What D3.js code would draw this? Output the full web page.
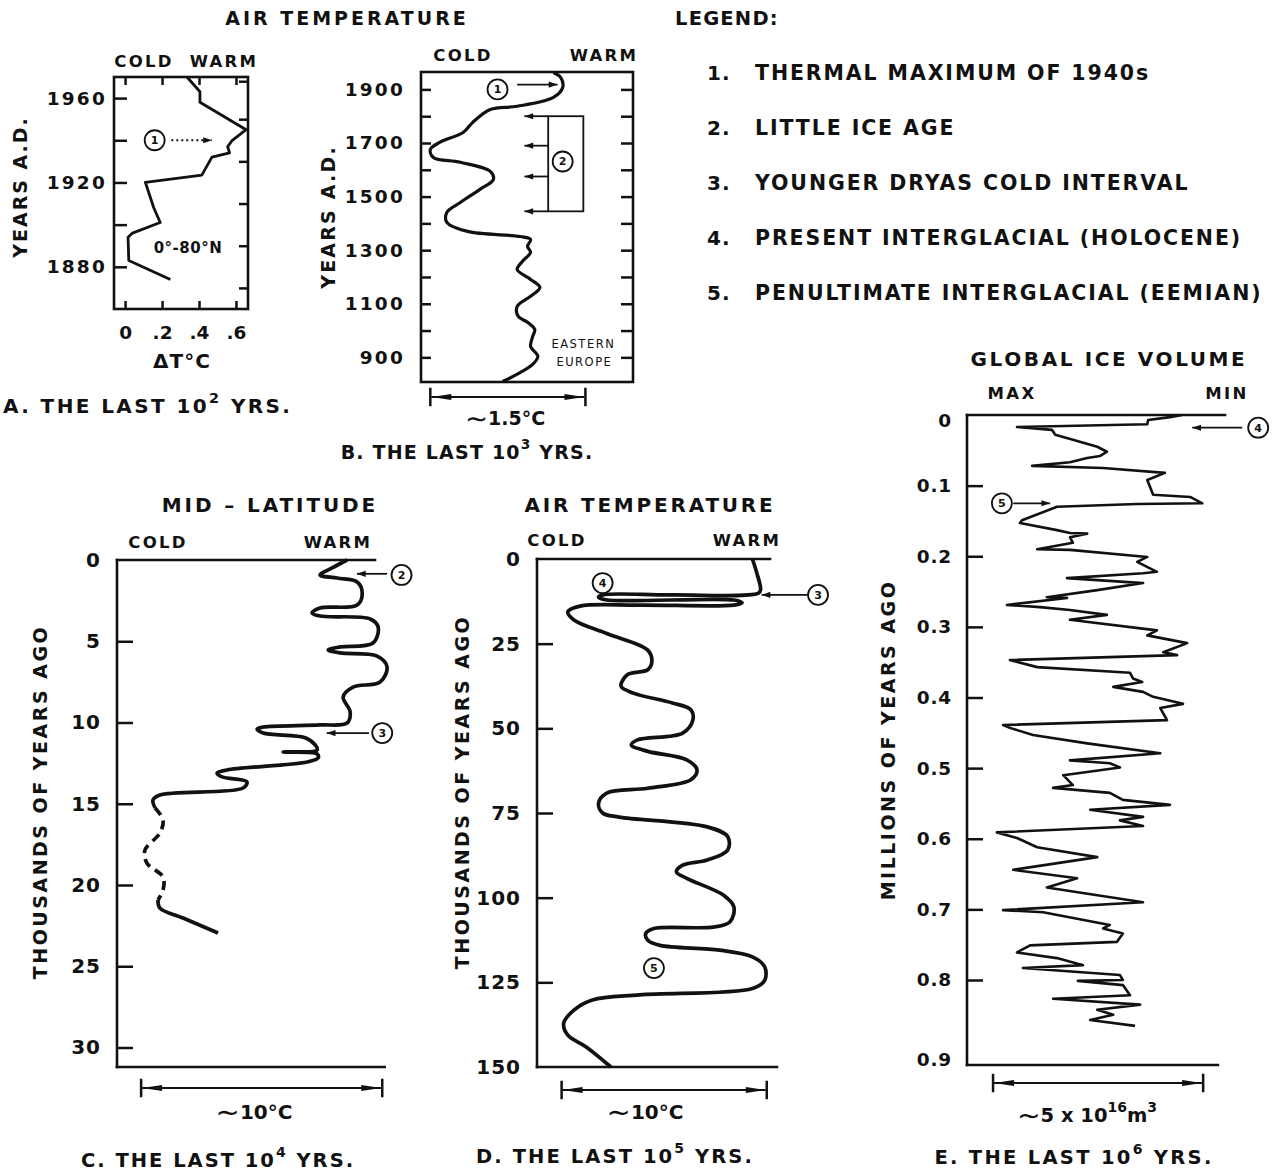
<!DOCTYPE html>
<html><head><meta charset="utf-8">
<script src="https://cdn.jsdelivr.net/npm/d3@7"></script>
<style>
body{margin:0;background:#fff}
text{font-family:"DejaVu Sans",sans-serif;font-weight:bold;fill:#111}
</style>
</head><body>
<svg id="c" width="1285" height="1171"></svg>
<script>
// ===================== DATA =====================
// Panel A: last 10^2 years, 0-80N air temperature anomaly
const aYears  = [1874,1883,1894,1896,1901,1908,1920,1923.5,1932,1934,1937,1940,1945,1958,1963,1970];
const aDeltaT = [0.245,0.02,0.016,0.04,0.19,0.155,0.11,0.415,0.47,0.565,0.555,0.58,0.655,0.405,0.405,0.335];
const aYearTicks = [1880,1920,1960];
const aDeltaTicks = [0,0.2,0.4,0.6];
const aDeltaLabels = ["0",".2",".4",".6"];

// Panel B: last 10^3 years, Eastern Europe (relative °C)
const bYears = [810,829,874,904,941,978,1004,1031,1053,1090,1128,1161,1191,1228,1258,1292,1314,1340,1351,1370,1404,1441,1478,1527,1564,1594,1628,1646,1676,1702,1740,1777,1825,1837,1870,1907,1945,1963];
const bTemp  = [0.79,0.89,1.08,1.13,1.06,1.08,1.10,1.03,0.94,0.93,1.06,1.15,1.06,0.93,0.98,1.06,1.03,1.06,0.96,0.45,0.25,0.25,0.38,0.57,0.70,0.67,0.38,0.12,0.09,0.18,0.41,0.50,0.67,0.93,1.28,1.37,1.35,1.28];
const bYearTicks = [900,1100,1300,1500,1700,1900];

// Panel C: last 10^4 years, mid-latitude (relative °C); dashed between 15.26 and 20.92 kyr
const cKyr  = [0,0.49,0.92,1.11,1.35,2.03,2.77,2.95,3.26,3.45,3.63,4.12,5.11,5.35,5.54,5.72,5.91,6.58,7.51,7.82,8.43,9.35,10.03,10.15,10.28,10.40,10.65,10.95,11.38,11.69,11.82,11.94,12.18,12.43,12.92,13.11,13.35,13.66,14.03,14.46,14.77,15.26,16.0,16.8,17.85,18.65,19.51,20.31,20.92,21.42,22.03,22.95];
const cTemp = [9.54,8.92,8.42,9.13,9.96,10.17,9.96,8.42,8.09,8.42,10.50,10.83,10.62,9.25,8.76,9.25,10.79,11.20,10.91,9.79,9.38,9.67,9.54,8.42,6.06,5.81,6.06,7.83,8.22,8.30,6.89,8.30,8.34,7.88,4.56,4.15,4.36,5.39,5.23,1.78,1.49,1.58,1.91,1.78,1.16,1.24,1.91,1.91,1.70,1.78,2.74,4.19];
const cDashed = [15.26,20.92];
const cTicks = [0,5,10,15,20,25,30];

// Panel D: last 10^5 years, air temperature (relative °C)
const dKyr  = [0,3.8,9.1,10.1,10.6,10.6,11.3,12.1,12.1,12.9,13.6,13.6,13.9,15.6,18.0,22,26.9,30.3,32.7,34.2,37.6,39.6,42.5,44.5,47.5,51.4,53.4,54.9,56.8,59.3,62.3,65.2,67.7,69.1,72.1,75.0,76.2,79.1,82.0,85.9,88.9,90.4,92.4,94.3,99.3,102.8,107.2,108.7,109.1,110.6,112.6,114.1,115.5,117.5,120.4,124.4,126.8,128.7,130.2,133.2,137.1,140.6,144.1,150];
const dTemp = [10.5,10.7,10.9,10.8,6.6,3.2,3.0,3.4,9.6,10.0,9.6,5.0,2.1,1.5,1.8,3.4,5.4,5.6,5.4,4.4,4.1,4.7,6.6,7.5,7.6,7.1,4.9,4.6,5.4,7.3,7.8,7.5,5.4,3.4,3.0,3.2,4.0,8.3,9.3,9.3,8.3,7.1,6.8,7.3,9.1,9.6,9.4,8.6,5.7,5.3,5.4,6.0,8.9,10.5,11.1,11.1,10.5,5.0,2.7,1.8,1.3,1.5,2.4,3.6];
const dTicks = [0,25,50,75,100,125,150];

// Panel E: last 10^6 years, global ice volume deficit from maximum (10^16 m^3)
const eMya = [0.000,0.003,0.007,0.013,0.017,0.021,0.028,0.035,0.045,0.052,0.058,0.061,0.067,0.072,0.075,0.082,0.092,0.113,0.116,0.125,0.126,0.130,0.149,0.153,0.163,0.167,0.168,0.173,0.181,0.190,0.191,0.201,0.208,0.222,0.224,0.231,0.238,0.248,0.258,0.259,0.269,0.272,0.276,0.283,0.290,0.305,0.312,0.323,0.336,0.340,0.347,0.357,0.365,0.373,0.378,0.385,0.392,0.399,0.409,0.415,0.432,0.439,0.443,0.453,0.465,0.479,0.489,0.493,0.499,0.510,0.524,0.528,0.535,0.545,0.552,0.559,0.569,0.574,0.582,0.591,0.599,0.612,0.626,0.644,0.656,0.669,0.690,0.701,0.704,0.722,0.727,0.734,0.746,0.751,0.761,0.769,0.779,0.783,0.793,0.800,0.801,0.806,0.818,0.822,0.829,0.835,0.841,0.847,0.854];
const eIce = [5.12,4.83,4.31,4.29,1.19,2.02,2.10,2.52,3.10,3.33,3.17,2.86,2.45,1.55,3.24,4.71,4.29,4.43,5.31,5.60,4.05,2.14,1.31,1.26,2.14,2.45,2.86,2.45,2.52,1.67,2.45,4.29,4.05,4.52,4.19,2.38,4.19,3.10,1.90,2.38,0.95,1.74,2.45,3.33,2.45,4.52,4.29,5.24,4.67,5.00,1.02,1.67,3.88,3.95,4.17,3.48,4.19,4.43,5.14,4.60,4.76,0.86,1.02,1.57,2.86,4.60,2.45,3.40,3.64,2.29,2.52,2.05,3.40,3.71,4.83,2.93,4.19,3.64,4.19,0.71,1.19,1.67,3.10,1.10,2.62,1.90,4.19,0.86,1.81,3.40,3.24,3.71,3.57,1.50,1.19,2.14,2.76,1.33,3.64,3.71,2.64,3.71,3.88,2.05,4.12,3.10,3.48,2.93,4.00];
const eTicks = [0,0.1,0.2,0.3,0.4,0.5,0.6,0.7,0.8,0.9];

const legendItems = ["THERMAL MAXIMUM OF 1940s","LITTLE ICE AGE","YOUNGER DRYAS COLD INTERVAL","PRESENT INTERGLACIAL (HOLOCENE)","PENULTIMATE INTERGLACIAL (EEMIAN)"];

// ===================== DRAWING =====================
const svg = d3.select("#c");
svg.append("rect").attr("width",1285).attr("height",1171).attr("fill","#fff");
const defs = svg.append("defs");
defs.append("marker").attr("id","bigArrow").attr("viewBox","0 0 20 8").attr("refX",20).attr("refY",4)
  .attr("markerUnits","userSpaceOnUse").attr("markerWidth",22).attr("markerHeight",8).attr("orient","auto-start-reverse")
  .append("path").attr("d","M0,1 L20,4 L0,7 Z").attr("fill","#111");
defs.append("marker").attr("id","smallArrow").attr("viewBox","0 0 10 8").attr("refX",10).attr("refY",4)
  .attr("markerUnits","userSpaceOnUse").attr("markerWidth",11).attr("markerHeight",7).attr("orient","auto")
  .append("path").attr("d","M0,0.5 L10,4 L0,7.5 Z").attr("fill","#111");

const INK="#111";
function txt(x,y,s,o={}){
  const t=svg.append("text").attr("x",x).attr("y",y).attr("dominant-baseline","central")
    .attr("text-anchor",o.anchor||"middle").style("font-size",(o.size||18)+"px")
    .style("letter-spacing",(o.ls!=null?o.ls:1.5)+"px");
  if(o.rot) t.attr("transform",`rotate(${o.rot},${x},${y})`);
  if(o.weight) t.style("font-weight",o.weight);
  t.text(s); return t;
}
function supTxt(x,y,parts,o={}){ // parts: [[text,isSup],...]
  const sz=o.size||19;
  const t=svg.append("text").attr("x",x).attr("y",y).attr("dominant-baseline","central")
    .attr("text-anchor",o.anchor||"middle").style("font-size",sz+"px")
    .style("letter-spacing",(o.ls!=null?o.ls:1.5)+"px");
  let up=false;
  parts.forEach(([s,sup])=>{
    const ts=t.append("tspan").text(s);
    if(sup){ts.style("font-size",(sz*0.72)+"px"); if(!up){ts.attr("dy",-sz*0.42);up=true;}}
    else if(up){ts.attr("dy",sz*0.42);up=false;}
  });
  return t;
}
function tildeTxt(x,y,rest,sz,supParts){
  const t=svg.append("text").attr("x",x).attr("y",y).attr("dominant-baseline","central")
    .attr("text-anchor","middle").style("font-size",sz+"px").style("letter-spacing","0px");
  t.append("tspan").text("∼").style("font-size",(sz*1.45)+"px").style("font-weight","normal");
  if(!supParts){ t.append("tspan").text(rest); return t; }
  let up=false;
  supParts.forEach(([s,sup])=>{
    const ts=t.append("tspan").text(s);
    if(sup){ts.style("font-size",(sz*0.72)+"px"); if(!up){ts.attr("dy",-sz*0.42);up=true;}}
    else if(up){ts.attr("dy",sz*0.42);up=false;}
  });
  return t;
}
function line(x1,y1,x2,y2,w=2.5){
  return svg.append("line").attr("x1",x1).attr("y1",y1).attr("x2",x2).attr("y2",y2)
    .attr("stroke",INK).attr("stroke-width",w).attr("stroke-linecap","square");
}
function marker(cx,cy,label){
  svg.append("circle").attr("cx",cx).attr("cy",cy).attr("r",10).attr("fill","#fff").attr("stroke",INK).attr("stroke-width",1.8);
  txt(cx,cy+0.5,label,{size:11,ls:0});
}
function arrow(x1,y1,x2,y2,dash){
  const l=svg.append("line").attr("x1",x1).attr("y1",y1).attr("x2",x2).attr("y2",y2)
    .attr("stroke",INK).attr("stroke-width",1.8).attr("marker-end","url(#smallArrow)");
  if(dash) l.attr("stroke-dasharray",dash);
}
function scaleBar(x1,x2,y){
  svg.append("line").attr("x1",x1+1).attr("y1",y).attr("x2",x2-1).attr("y2",y)
    .attr("stroke",INK).attr("stroke-width",2.2)
    .attr("marker-start","url(#bigArrow)").attr("marker-end","url(#bigArrow)");
  line(x1,y-8,x1,y+8,2.5); line(x2,y-8,x2,y+8,2.5);
}
function styleAxis(g){
  g.select(".domain").remove();
  g.selectAll(".tick line").attr("stroke",INK).attr("stroke-width",2.5);
  g.selectAll(".tick text").attr("fill",INK).style("font-family","DejaVu Sans").style("font-weight","bold");
}

// ---------- Panel A ----------
const xA=d3.scaleLinear([-0.06,0.665],[114,248]);
const yA=d3.scaleLinear([1860,1970],[309,77]);
svg.append("rect").attr("x",xA(-0.06)).attr("y",yA(1970)).attr("width",xA(0.665)-xA(-0.06)).attr("height",yA(1860)-yA(1970))
  .attr("fill","none").attr("stroke",INK).attr("stroke-width",2.6);
let g=svg.append("g").attr("transform",`translate(${xA(-0.06)},0)`)
  .call(d3.axisLeft(yA).tickValues(aYearTicks).tickFormat(d3.format("d")).tickSizeInner(-13).tickSizeOuter(0).tickPadding(7));
styleAxis(g); g.selectAll(".tick text").style("font-size","18.5px").style("letter-spacing","2.2px");
g=svg.append("g").attr("transform",`translate(${xA(-0.06)},0)`)
  .call(d3.axisLeft(yA).tickValues([1900,1940]).tickFormat("").tickSizeInner(-13).tickSizeOuter(0)); styleAxis(g);
g=svg.append("g").attr("transform",`translate(${xA(0.665)},0)`)
  .call(d3.axisRight(yA).tickValues([1870,1890,1910,1930,1950,1968]).tickFormat("").tickSizeInner(-9).tickSizeOuter(0)); styleAxis(g);
g=svg.append("g").attr("transform",`translate(0,${yA(1860)})`)
  .call(d3.axisBottom(xA).tickValues(aDeltaTicks).tickFormat((d,i)=>aDeltaLabels[i]).tickSizeInner(-8).tickSizeOuter(0).tickPadding(17));
styleAxis(g); g.selectAll(".tick text").style("font-size","18.5px");
g=svg.append("g").attr("transform",`translate(0,${yA(1970)})`)
  .call(d3.axisTop(xA).tickValues(aDeltaTicks).tickFormat("").tickSizeInner(-8).tickSizeOuter(0)); styleAxis(g);
svg.append("path").datum(aYears.map((y,i)=>[aDeltaT[i],y]))
  .attr("d",d3.line().x(d=>xA(d[0])).y(d=>yA(d[1])))
  .attr("fill","none").attr("stroke",INK).attr("stroke-width",2.8).attr("stroke-linejoin","round");
marker(xA(0.16),yA(1940),"1");
arrow(xA(0.25),yA(1940),xA(0.47),yA(1940),"2,3");
txt(xA(0.34),yA(1889),"0°-80°N",{size:15,ls:0.5});
txt(144,61,"COLD",{size:16.5,ls:2.3});
txt(224,61,"WARM",{size:16.5,ls:2.3});
txt(20,187,"YEARS A.D.",{size:19,rot:-90,ls:2});
txt(182,361,"ΔT°C",{size:20,ls:1});
supTxt(3,406,[["A. THE LAST 10",false],["2",true],[" YRS.",false]],{anchor:"start",size:20,ls:2.4});

// ---------- Panel B ----------
const xB=d3.scaleLinear([0,2.05],[421,633]);
const yB=d3.scaleLinear([808,1965],[382,72]);
svg.append("rect").attr("x",xB(0)).attr("y",yB(1965)).attr("width",xB(2.05)-xB(0)).attr("height",yB(808)-yB(1965))
  .attr("fill","none").attr("stroke",INK).attr("stroke-width",2.6);
g=svg.append("g").attr("transform",`translate(${xB(0)},0)`)
  .call(d3.axisLeft(yB).tickValues(d3.range(900,1901,100)).tickFormat(d=>bYearTicks.includes(d)?d:"").tickSizeInner(-10).tickSizeOuter(0).tickPadding(16));
styleAxis(g); g.selectAll(".tick text").style("font-size","18.5px").style("letter-spacing","2.2px");
g=svg.append("g").attr("transform",`translate(${xB(2.05)},0)`)
  .call(d3.axisRight(yB).tickValues(d3.range(900,1901,100)).tickFormat("").tickSizeInner(-12).tickSizeOuter(0)); styleAxis(g);
svg.append("path").datum(bYears.map((y,i)=>[bTemp[i],y]))
  .attr("d",d3.line().x(d=>xB(d[0])).y(d=>yB(d[1])).curve(d3.curveCatmullRom.alpha(0.5)))
  .attr("fill","none").attr("stroke",INK).attr("stroke-width",3.2).attr("stroke-linejoin","round");
marker(xB(0.74),yB(1900),"1");
arrow(xB(0.93),yB(1918),xB(1.32),yB(1918));
// Little Ice Age bracket
svg.append("rect").attr("x",xB(1.23)).attr("y",yB(1800)).attr("width",xB(1.57)-xB(1.23)).attr("height",yB(1445)-yB(1800))
  .attr("fill","none").attr("stroke",INK).attr("stroke-width",1.8);
[1800,1690,1575,1445].forEach(yr=>arrow(xB(1.23),yB(yr),xB(1.0),yB(yr)));
marker(xB(1.37),yB(1631),"2");
txt(xB(1.57),yB(950),"EASTERN",{size:11.5,ls:1.5,weight:"normal"});
txt(xB(1.58),yB(882),"EUROPE",{size:11.5,ls:1.5,weight:"normal"});
txt(463,55,"COLD",{size:16.5,ls:2.3});
txt(604,55,"WARM",{size:16.5,ls:2.3});
txt(328,217,"YEARS A.D.",{size:19,rot:-90,ls:2.2});
scaleBar(xB(0.09),xB(1.59),yB(808)+15);
tildeTxt(505,418,"1.5°C",19);
supTxt(467,452,[["B.  THE LAST 10",false],["3",true],[" YRS.",false]],{size:19,ls:1.2});
txt(347,18,"AIR  TEMPERATURE",{size:19,ls:3});

// ---------- Legend ----------
txt(675,18,"LEGEND:",{anchor:"start",size:19.5,ls:1.2});
legendItems.forEach((s,i)=>{
  txt(707,73+i*55,(i+1)+".",{anchor:"start",size:20,ls:1});
  txt(755,73+i*55,s,{anchor:"start",size:20.5,ls:1.9});
});

// ---------- Panel C ----------
const xC=d3.scaleLinear([0,10.7],[117,375]);
const yC=d3.scaleLinear([0,31.2],[560,1067]);
line(xC(0),yC(0),xC(0),yC(31.2),2.6);
line(xC(0),yC(0),xC(10.7),yC(0),2.6);
line(xC(0),yC(31.2),xC(11.1),yC(31.2),2.6);
g=svg.append("g").attr("transform",`translate(${xC(0)},0)`)
  .call(d3.axisLeft(yC).tickValues(cTicks).tickFormat(d3.format("d")).tickSizeInner(-16).tickSizeOuter(0).tickPadding(16));
styleAxis(g); g.selectAll(".tick text").style("font-size","20px").style("letter-spacing","1px");
g.selectAll(".tick line").filter(d=>d===0).remove();
const lineC=d3.line().x(d=>xC(d[1])).y(d=>yC(d[0])).curve(d3.curveCatmullRom.alpha(0.5));
const cPts=cKyr.map((k,i)=>[k,cTemp[i]]);
[[cPts.filter(d=>d[0]<=cDashed[0]),null],[cPts.filter(d=>d[0]>=cDashed[0]&&d[0]<=cDashed[1]),"9,6"],[cPts.filter(d=>d[0]>=cDashed[1]),null]]
.forEach(([pts,dash])=>{
  const p=svg.append("path").datum(pts).attr("d",lineC).attr("fill","none").attr("stroke",INK)
    .attr("stroke-width",3.7).attr("stroke-linejoin","round");
  if(dash) p.attr("stroke-dasharray",dash);
});
marker(xC(11.8),yC(0.92),"2");
arrow(xC(11.2),yC(0.85),xC(9.95),yC(0.85));
marker(xC(11.0),yC(10.65),"3");
arrow(xC(10.45),yC(10.65),xC(8.7),yC(10.65));
txt(270,505,"MID – LATITUDE",{size:20,ls:2.9});
txt(158,542,"COLD",{size:16.5,ls:2.3});
txt(338,542,"WARM",{size:16.5,ls:2.3});
txt(40,802,"THOUSANDS OF YEARS AGO",{size:19,rot:-90,ls:2.5});
scaleBar(xC(1.0),xC(11.0),yC(31.2)+21);
tildeTxt(254,1112,"10°C",20);
supTxt(218,1160,[["C. THE LAST 10",false],["4",true],[" YRS.",false]],{size:19.5,ls:2.0});

// ---------- Panel D ----------
const xD=d3.scaleLinear([0,11.7],[537,777]);
const yD=d3.scaleLinear([0,150],[559,1067]);
line(xD(0),yD(0),xD(0),yD(150),2.6);
line(xD(0),yD(0),xD(11.36),yD(0),2.6);
line(xD(0),yD(150),xD(11.7),yD(150),2.6);
g=svg.append("g").attr("transform",`translate(${xD(0)},0)`)
  .call(d3.axisLeft(yD).tickValues(dTicks).tickFormat(d3.format("d")).tickSizeInner(-16).tickSizeOuter(0).tickPadding(16));
styleAxis(g); g.selectAll(".tick text").style("font-size","20px").style("letter-spacing","1px");
g.selectAll(".tick line").filter(d=>d===0||d===150).remove();
svg.append("path").datum(dKyr.map((k,i)=>[k,dTemp[i]]))
  .attr("d",d3.line().x(d=>xD(d[1])).y(d=>yD(d[0])).curve(d3.curveCatmullRom.alpha(0.5)))
  .attr("fill","none").attr("stroke",INK).attr("stroke-width",3.7).attr("stroke-linejoin","round");
marker(xD(3.2),yD(7.1),"4");
marker(xD(13.7),yD(10.6),"3");
arrow(xD(13.2),yD(10.6),xD(10.95),yD(10.6));
marker(xD(5.7),yD(120.8),"5");
txt(650,505,"AIR TEMPERATURE",{size:20,ls:2.8});
txt(557,540,"COLD",{size:16.5,ls:2.3});
txt(747,540,"WARM",{size:16.5,ls:2.3});
txt(462,792,"THOUSANDS OF YEARS AGO",{size:19,rot:-90,ls:2.5});
scaleBar(xD(1.2),xD(11.2),yD(150)+23);
tildeTxt(645,1112,"10°C",20);
supTxt(615,1156,[["D. THE LAST 10",false],["5",true],[" YRS.",false]],{size:19.5,ls:2.1});

// ---------- Panel E ----------
const xE=d3.scaleLinear([0,6.14],[967,1225]);
const yE=d3.scaleLinear([0,0.8,0.9],[415,980,1065]);
line(xE(0),yE(0),xE(0),yE(0.9),2.6);
line(xE(0),yE(0),xE(6.14),yE(0),2.6);
line(xE(0),yE(0.9),xE(5.97),yE(0.9),2.6);
g=svg.append("g").attr("transform",`translate(${xE(0)},0)`)
  .call(d3.axisLeft(yE).tickValues(eTicks).tickFormat(d=>d===0?"0":d3.format(".1f")(d)).tickSizeInner(-16).tickSizeOuter(0).tickPadding(15));
styleAxis(g); g.selectAll(".tick text").style("font-size","18.5px").style("letter-spacing","0.8px");
g.selectAll(".tick line").filter(d=>d===0||d===0.9).remove();
g.selectAll(".tick text").filter(d=>d===0).attr("dy","0.6em");
g.selectAll(".tick text").filter(d=>d===0.9).attr("dy","0.05em");
svg.append("path").datum(eMya.map((t,i)=>[t,eIce[i]]))
  .attr("d",d3.line().x(d=>xE(d[1])).y(d=>yE(d[0])))
  .attr("fill","none").attr("stroke",INK).attr("stroke-width",2.6).attr("stroke-linejoin","round");
marker(xE(6.93),yE(0.018),"4");
arrow(xE(6.55),yE(0.018),xE(5.36),yE(0.018));
marker(xE(0.83),yE(0.125),"5");
arrow(xE(1.10),yE(0.125),xE(1.98),yE(0.125));
txt(1109,359,"GLOBAL ICE VOLUME",{size:20,ls:2.6});
txt(1012,393,"MAX",{size:16.5,ls:2.3});
txt(1227,393,"MIN",{size:16.5,ls:2.3});
txt(888,740,"MILLIONS OF YEARS AGO",{size:19,rot:-90,ls:2.5});
scaleBar(xE(0.62),xE(5.62),yE(0.9)+18);
tildeTxt(1087,1115,null,19.5,[["5 x 10",false],["16",true],["m",false],["3",true]]);
supTxt(1074,1157,[["E. THE LAST 10",false],["6",true],[" YRS.",false]],{size:19.5,ls:2.3});
</script>
</body></html>
